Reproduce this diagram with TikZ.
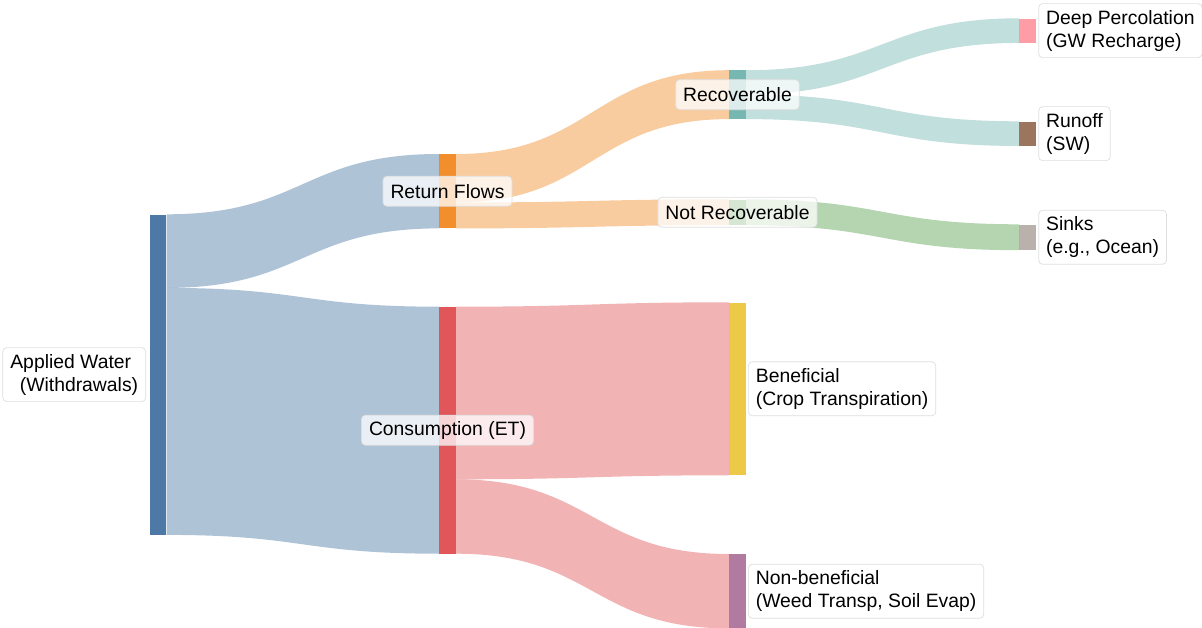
\documentclass[tikz,border=0pt]{standalone}
\usepackage{fontspec}
\setmainfont{Liberation Sans}
\usetikzlibrary{calc}
\definecolor{cblue}{HTML}{4E79A7}
\definecolor{corange}{HTML}{F28E2B}
\definecolor{cred}{HTML}{E15759}
\definecolor{cteal}{HTML}{76B7B2}
\definecolor{cgreen}{HTML}{59A14F}
\definecolor{cyellow}{HTML}{EDC948}
\definecolor{cpurple}{HTML}{B07AA1}
\definecolor{cpink}{HTML}{FF9DA7}
\definecolor{cbrown}{HTML}{9C755F}
\definecolor{cgray}{HTML}{BAB0AC}
% #1 source top, #2 source bottom, #3 target top, #4 target bottom, #5 colour
\newcommand\sflow[5]{%
  \fill[#5,fill opacity=0.45] let \p1=(#1), \p2=(#2), \p3=(#3), \p4=(#4), \n1={0.5*(\x1+\x3)} in
    (\p1) .. controls (\n1,\y1) and (\n1,\y3) .. (\p3) -- (\p4)
    .. controls (\n1,\y4) and (\n1,\y2) .. (\p2) -- cycle;}
\begin{document}
\begin{tikzpicture}[x=1pt,y=-1pt,
  font=\fontsize{19.35}{23.2}\selectfont,
  bar/.style={rectangle,inner sep=0pt,minimum width=16.6pt,anchor=north west,draw=none},
  lbl/.style={rectangle,rounded corners=4pt,draw=black!13,line width=0.7pt,fill=white,
    fill opacity=0.75,text opacity=1,inner xsep=7.5pt,inner ysep=5pt},
  one/.style={lbl,minimum height=30pt},
  two/.style={lbl,minimum height=54pt,align=left}]
\useasboundingbox (0,0) rectangle (1202,627);
% nodes
\node[bar,fill=cblue,minimum height=320.2pt] (aw) at (149.5,214.3) {};
\node[bar,fill=corange,minimum height=74pt] (rf) at (439,154) {};
\node[bar,fill=cred,minimum height=246.6pt] (ct) at (439,306.7) {};
\node[bar,fill=cteal,minimum height=48.5pt] (rc) at (729,70.2) {};
\node[bar,fill=cgreen,minimum height=25.5pt] (nr) at (729,199.3) {};
\node[bar,fill=cyellow,minimum height=172.6pt] (bf) at (729,302.3) {};
\node[bar,fill=cpurple,minimum height=74pt] (nb) at (729,554) {};
\node[bar,fill=cpink,minimum height=24.25pt] (dp) at (1019,18.3) {};
\node[bar,fill=cbrown,minimum height=24.25pt] (ro) at (1019,121.3) {};
\node[bar,fill=cgray,minimum height=25.5pt] (sk) at (1019,224.3) {};
% split points
\coordinate (aws) at ([yshift=-73.6pt]aw.north east);
\coordinate (rfs) at ([yshift=-48.5pt]rf.north east);
\coordinate (cts) at ([yshift=-172.6pt]ct.north east);
\coordinate (rcs) at ([yshift=-24.25pt]rc.north east);
% links
\sflow{aw.north east}{aws}{rf.north west}{rf.south west}{cblue}
\sflow{aws}{aw.south east}{ct.north west}{ct.south west}{cblue}
\sflow{rf.north east}{rfs}{rc.north west}{rc.south west}{corange}
\sflow{rfs}{rf.south east}{nr.north west}{nr.south west}{corange}
\sflow{ct.north east}{cts}{bf.north west}{bf.south west}{cred}
\sflow{cts}{ct.south east}{nb.north west}{nb.south west}{cred}
\sflow{rc.north east}{rcs}{dp.north west}{dp.south west}{cteal}
\sflow{rcs}{rc.south east}{ro.north west}{ro.south west}{cteal}
\sflow{nr.north east}{nr.south east}{sk.north west}{sk.south west}{cgreen}
% labels
\node[two,align=right,anchor=east] (awl) at ([xshift=-3.5pt]aw.west) {Applied Water\rule{7pt}{0pt}\\(Withdrawals)};
\node[one] (rfl) at (rf.center) {Return Flows};
\node[one] (ctl) at (ct.center) {Consumption (ET)};
\node[one] (rcl) at (rc.center) {Recoverable};
\node[one] (nrl) at (nr.center) {Not Recoverable};
\node[two,anchor=west] (bfl) at ([xshift=2pt]bf.east) {Beneficial\\(Crop Transpiration)};
\node[two,anchor=west] (nbl) at ([xshift=2pt]nb.east) {Non-beneficial\\(Weed Transp, Soil Evap)};
\node[two,anchor=west] (dpl) at ([xshift=2.3pt]dp.east) {Deep Percolation\\(GW Recharge)};
\node[two,anchor=west] (rol) at ([xshift=2.3pt]ro.east) {Runoff\\(SW)};
\node[two,anchor=west] (skl) at ([xshift=2.3pt]sk.east) {Sinks\\(e.g., Ocean)};
\end{tikzpicture}
\end{document}
